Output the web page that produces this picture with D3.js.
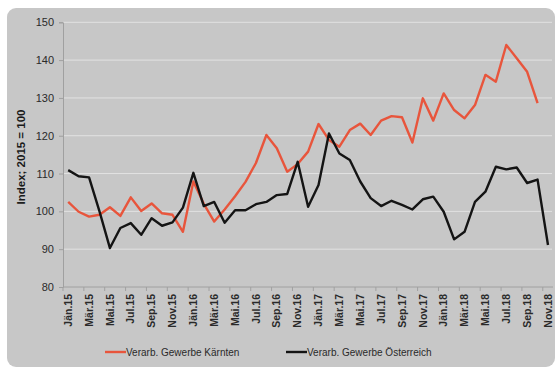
<!DOCTYPE html>
<html>
<head>
<meta charset="utf-8">
<script src="https://cdn.jsdelivr.net/npm/d3@7"></script>
<style>
  body { margin: 0; background: #fff; }
  svg { display: block; font-family: "Liberation Sans", Arial, sans-serif; }
</style>
</head>
<body>
<div id="chart"></div>
<script>
const monthNames = ["Jän", "Feb", "Mär", "Apr", "Mai", "Jun", "Jul", "Aug", "Sep", "Okt", "Nov", "Dez"];
const years = ["15", "16", "17", "18"];
const months = years.flatMap(y => monthNames.map(m => `${m}.${y}`)).slice(0, 47);

// Verarb. Gewerbe Kärnten (ends Okt.18)
const kaernten = [
  102.5, 99.9, 98.6, 99.1, 101.1, 98.8, 103.7, 100.1, 102.1, 99.5, 99.1, 94.6,
  107.9, 102.0, 97.3, 100.5, 104.0, 107.8, 112.8, 120.2, 116.7, 110.5, 112.5, 115.8,
  123.1, 118.9, 117.1, 121.5, 123.2, 120.2, 124.0, 125.2, 124.9, 118.2, 129.9, 124.0,
  131.2, 126.8, 124.6, 128.1, 136.1, 134.3, 144.0, 140.5, 136.9, 128.6, null
];

// Verarb. Gewerbe Österreich
const oesterreich = [
  110.9, 109.3, 109.0, 100.0, 90.3, 95.6, 96.9, 93.8, 98.2, 96.2, 97.1, 101.0,
  110.2, 101.4, 102.5, 97.0, 100.3, 100.3, 101.9, 102.5, 104.3, 104.6, 113.1, 101.2,
  107.0, 120.6, 115.3, 113.6, 107.9, 103.5, 101.4, 102.8, 101.7, 100.5, 103.2, 103.9,
  99.9, 92.6, 94.6, 102.5, 105.2, 111.8, 111.1, 111.6, 107.5, 108.4, 91.1
];

const yTicks = [80, 90, 100, 110, 120, 130, 140, 150];
const seriesNames = ["Verarb. Gewerbe Kärnten", "Verarb. Gewerbe Österreich"];
const seriesColors = ["#e8553c", "#141414"];

const width = 558, height = 370;
const plot = { left: 63, right: 553, top: 22.3, bottom: 287 };

const svg = d3.select("#chart").append("svg")
  .attr("width", width)
  .attr("height", height);

// gray panel
svg.append("rect")
  .attr("x", 7).attr("y", 8)
  .attr("width", 548).attr("height", 359)
  .attr("rx", 9)
  .attr("fill", "#c7c7c7");

const x = d3.scalePoint()
  .domain(months)
  .range([plot.left + 5.2, plot.right - 5])
  .padding(0);

const step = x.step();

const y = d3.scaleLinear()
  .domain([80, 150])
  .range([plot.bottom, plot.top]);

// gridlines
svg.append("g")
  .selectAll("line")
  .data(yTicks.filter(d => d > 80))
  .join("line")
  .attr("x1", plot.left).attr("x2", plot.right - 1)
  .attr("y1", d => y(d)).attr("y2", d => y(d))
  .attr("stroke", "#e2e2e2")
  .attr("stroke-width", 1);

// y axis
const yAxis = svg.append("g")
  .attr("transform", `translate(${plot.left},0)`)
  .call(d3.axisLeft(y).tickValues(yTicks).tickSize(4).tickPadding(5));
yAxis.select(".domain").attr("stroke", "#a0a0a0");
yAxis.selectAll(".tick line").attr("stroke", "#a0a0a0");
yAxis.selectAll("text")
  .attr("fill", "#2a2a2a")
  .style("font-size", "11px");

// x axis line + ticks every 2 months (between categories)
svg.append("line")
  .attr("x1", plot.left).attr("x2", plot.right)
  .attr("y1", plot.bottom).attr("y2", plot.bottom)
  .attr("stroke", "#a0a0a0");

const labelMonths = months.filter((d, i) => i % 2 === 0);

svg.append("g")
  .selectAll("line")
  .data(labelMonths)
  .join("line")
  .attr("x1", d => x(d) - step / 2).attr("x2", d => x(d) - step / 2)
  .attr("y1", plot.bottom).attr("y2", plot.bottom + 4)
  .attr("stroke", "#a0a0a0");

svg.append("g")
  .selectAll("text")
  .data(labelMonths)
  .join("text")
  .attr("transform", d => `translate(${x(d)},${plot.bottom + 7}) rotate(-90)`)
  .attr("text-anchor", "end")
  .attr("dy", "0.35em")
  .attr("fill", "#2a2a2a")
  .style("font-size", "10.5px")
  .style("font-weight", "bold")
  .text(d => d);

// y title
svg.append("text")
  .attr("transform", `translate(21,157) rotate(-90)`)
  .attr("text-anchor", "middle")
  .attr("dy", "0.35em")
  .attr("fill", "#1a1a1a")
  .style("font-size", "11.5px")
  .style("font-weight", "bold")
  .text("Index; 2015 = 100");

// lines
const line = d3.line()
  .defined(d => d[1] != null)
  .x(d => x(d[0]))
  .y(d => y(d[1]));

[kaernten, oesterreich].forEach((vals, k) => {
  svg.append("path")
    .datum(months.map((m, i) => [m, vals[i]]))
    .attr("fill", "none")
    .attr("stroke", seriesColors[k])
    .attr("stroke-width", 2.4)
    .attr("stroke-linejoin", "round")
    .attr("d", line);
});

// legend
const legendX = [105, 286];
const legend = svg.append("g")
  .selectAll("g")
  .data(seriesNames)
  .join("g")
  .attr("transform", (d, i) => `translate(${legendX[i]},352)`);

legend.append("line")
  .attr("x1", 0).attr("x2", 21)
  .attr("stroke", (d, i) => seriesColors[i])
  .attr("stroke-width", 2.4);

legend.append("text")
  .attr("x", 21)
  .attr("dy", "0.35em")
  .attr("fill", "#2a2a2a")
  .style("font-size", "10px")
  .text(d => d);
</script>
</body>
</html>
